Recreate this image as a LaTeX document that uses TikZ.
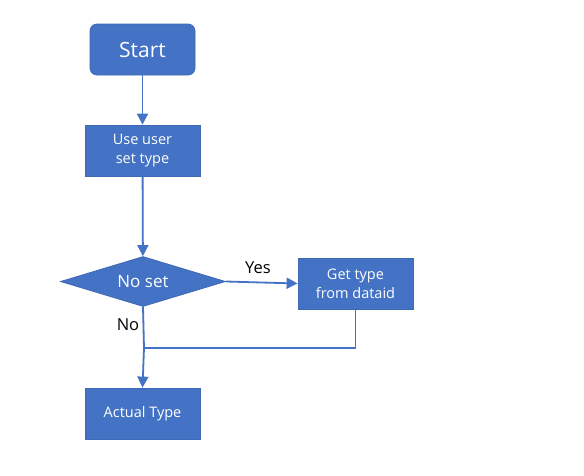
\documentclass[tikz,border=0pt]{standalone}
\usepackage{fontspec}
\setmainfont{Open Sans}
\usetikzlibrary{shapes.geometric,arrows.meta}
\definecolor{obl}{HTML}{4472C4}
\definecolor{obd}{HTML}{3F69B5}
\tikzset{
  boxst/.style={draw=obd,fill=obl,line width=0.8pt,text=white,minimum width=115pt,minimum height=51pt,align=center,font=\fontsize{14.5}{19}\selectfont,inner sep=0pt},
  startst/.style={boxst,rounded corners=7pt,minimum width=105pt,font=\fontsize{21}{24}\selectfont},
  decst/.style={draw=obd,fill=obl,line width=0.8pt,text=white,diamond,aspect=3.3,minimum width=165pt,minimum height=50pt,inner sep=0pt,font=\fontsize{17}{20}\selectfont},
  arr/.style={draw=obl,line width=1.8pt,-{Triangle[length=11pt,width=11pt]}},
  ln/.style={draw=obl,line width=1.8pt},
  lbl/.style={font=\fontsize{16.5}{18}\selectfont,text=black}
}
\begin{document}
\begin{tikzpicture}[x=1pt,y=-1pt]
\useasboundingbox[fill=white] (0,0) rectangle (584,475);
\node[startst] (start) at (142.5,49.5) {Start};
\node[boxst] (use) at (142.5,150.5) {Use user\\set type};
\node[decst] (dec) at (143,281.5) {No set};
\node[boxst] (get) at (355.5,283.5) {Get type\\from dataid};
\node[boxst] (act) at (142.5,413.5) {Actual Type};
\coordinate (m) at (144,348);
\draw[arr] (start) -- (use);
\draw[arr] (use) -- (dec);
\draw[arr] (dec.east) -- (get.west);
\draw[arr] (dec.south) -- (m) -- (act.north);
\draw[ln] (get.south) |- (m);
\node[lbl] (yes) at (258,268) {Yes};
\node[lbl] (no) at (128,325) {No};
\end{tikzpicture}
\end{document}
